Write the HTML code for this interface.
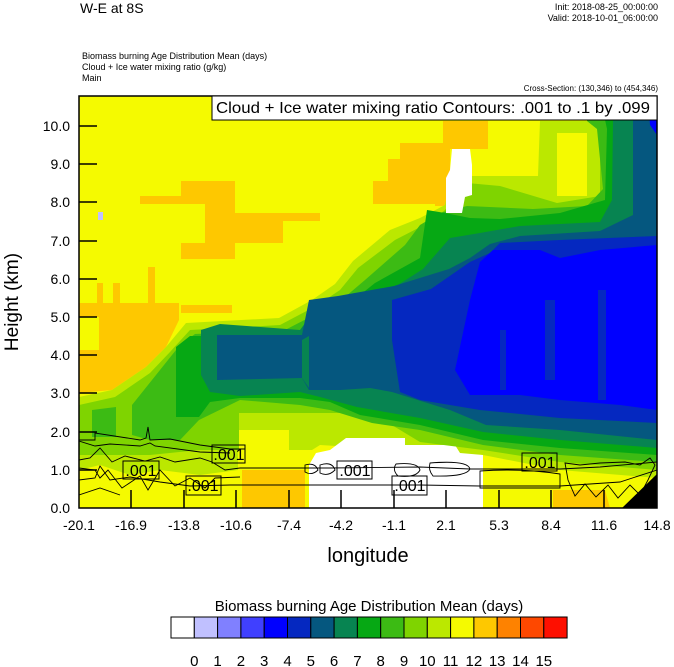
<!DOCTYPE html>
<html><head><meta charset="utf-8"><style>
html,body{margin:0;padding:0;background:#fff;}
svg{display:block;font-family:"Liberation Sans",sans-serif;}
</style></head><body>
<svg width="674" height="667" viewBox="0 0 674 667" xmlns="http://www.w3.org/2000/svg">
<text x="80" y="13" font-size="14">W-E at 8S</text>
<text x="658" y="10" font-size="9" text-anchor="end">Init: 2018-08-25_00:00:00</text>
<text x="658" y="21" font-size="9" text-anchor="end">Valid: 2018-10-01_06:00:00</text>
<text x="82" y="59" font-size="9">Biomass burning Age Distribution Mean    (days)</text>
<text x="82" y="70" font-size="9">Cloud + Ice water mixing ratio    (g/kg)</text>
<text x="82" y="81" font-size="9">Main</text>
<text x="658" y="91" font-size="8" text-anchor="end">Cross-Section: (130,346) to (454,346)</text>
<defs><clipPath id="c"><rect x="79" y="96" width="578" height="412"/></clipPath></defs>
<g clip-path="url(#c)">
<rect x="79" y="96" width="578" height="412" fill="#f5fa00"/>
<!-- orange patches -->
<g fill="#fec800">
<polygon points="79,303 97,303 97,283 103,283 103,303 113,303 113,283 120,283 120,303 148,303 148,267 155,267 155,303 179,303 179,320 166,347 146,367 112,390 79,393 79,350 99,350 99,317 79,317"/>
<polygon points="140,196 181,196 181,181 235,181 235,213 320,213 320,221 283,221 283,243 235,243 235,259 181,259 181,243 205,243 205,204 140,204"/>
<polygon points="443,121 488,121 488,149 450,149 450,206 435,206 435,204 373,204 373,181 388,181 388,159 400,159 400,143 443,143"/>
<polygon points="181,305 232,305 232,313 181,313"/>
</g>
<!-- yellow-green 10-11 -->
<polygon fill="#bbe800" points="79,397 112,390 146,367 166,347 186,323 279,318 312,300 335,284 353,261 390,230 420,218 445,205 450,180 472,176 538,176 540,121 590,121 590,96 657,96 657,508 79,508"/>
<polygon fill="#f5fa00" points="557,133 587,133 587,196 557,196"/>
<!-- bottom yellow -->
<polygon fill="#f5fa00" points="79,470 100,465 130,475 160,470 200,475 238,470 238,430 289,430 289,450 312,450 320,445 483,455 560,470 657,478 657,508 79,508"/>
<polygon fill="#fec800" points="242,470 305,470 305,508 242,508"/>
<polygon fill="#fec800" points="553,490 605,490 610,508 553,508"/>
<polygon fill="#fff" points="309,508 309,465 316,453 330,450 346,438 405,438 405,445 455,445 460,453 483,455 483,508"/>
<!-- 9-10 -->
<polygon fill="#7fd400" points="79,405 115,397 150,373 170,352 190,330 280,325 316,306 340,290 358,268 395,240 430,222 445,210 467,183 500,186 557,203 600,196 600,120 603,96 657,96 657,470 560,462 483,450 420,442 372,413 239,413 239,450 199,450 150,455 79,455"/>
<!-- 8-9 -->
<polygon fill="#3cbb14" points="132,405 160,370 180,345 195,334 285,330 320,312 345,297 365,280 405,245 420,225 440,213 467,206 533,209 587,206 603,189 597,129 587,121 590,96 657,96 657,462 560,455 483,445 420,430 372,423 330,410 300,405 240,400 199,420 180,440 150,440 132,435"/>
<polygon fill="#3cbb14" points="92,410 116,407 116,437 92,437"/>
<!-- 7-8 -->
<polygon fill="#06a814" points="176,347 190,336 290,336 325,318 350,303 375,283 420,258 427,210 445,213 470,218 500,219 560,213 605,200 607,129 600,96 657,96 657,455 560,448 483,440 420,425 360,415 330,402 300,398 240,398 210,402 199,417 176,417"/>
<!-- 6-7 -->
<polygon fill="#078451" points="201,330 220,324 300,330 309,318 338,312 390,290 423,269 450,238 480,233 520,226 600,222 612,200 613,121 618,96 657,96 657,448 560,440 483,432 420,418 357,407 320,397 300,392 240,396 210,392 201,375"/>
<!-- teal 5-6 -->
<polygon fill="#05577f" points="217,335 302,335 309,300 338,296 394,286 449,269 470,258 490,244 520,236 600,231 633,215 633,121 640,96 657,96 657,440 560,430 486,425 450,410 392,392 370,388 340,390 309,390 302,378 217,380"/>
<polygon fill="#078451" points="302,340 309,336 309,388 302,378"/>
<!-- dark blue 4-5 -->
<polygon fill="#0528c0" points="392,300 431,289 470,262 490,253 500,243 560,240 657,236 657,423 560,418 480,410 420,400 400,392 392,340"/>
<!-- blue 3-4 -->
<polygon fill="#0000ff" points="480,262 493,250 540,250 560,258 600,250 657,245 657,410 620,405 560,400 520,395 470,395 455,370 470,300"/>
<rect x="545" y="300" width="10" height="80" fill="#0528c0"/>
<rect x="598" y="290" width="8" height="110" fill="#0528c0"/>
<rect x="500" y="330" width="6" height="60" fill="#0528c0"/>
<polygon fill="#0000ff" points="648,96 657,96 657,135 650,125"/>
<!-- white cloud -->
<polygon fill="#ffffff" points="452,149 470,149 472,165 472,195 465,197 462,213 446,213 446,178 450,170"/>
<rect x="98" y="212" width="5" height="8" fill="#c0c0ff"/>
<!-- terrain -->
<polygon fill="#000" points="622,508 657,474 657,508"/>
<!-- contours -->
<g fill="none" stroke="#000" stroke-width="0.9">
<path d="M79,440 L95,440 L95,433 L140,440 L146,438 L148,427 L150,440 L170,439 L200,445 L215,447 L230,449 L245,449"/>
<path d="M79,441 L95,446 L110,444 L140,446 L150,443 L155,446 L200,452 L230,453"/>
<path d="M79,460 L90,458 L100,448 L112,462 L125,456 L145,461 L160,457 L175,462 L200,458 L212,462 L225,470 L240,468 L290,468 L330,468 L420,467 L470,469 L560,469 L600,467 L657,462"/>
<path d="M79,468 L95,470 L100,478 L108,470 L122,488 L140,476 L148,490 L160,470 L175,486 L190,478 L205,488 L215,478 L240,477"/>
<path d="M79,480 L95,478 L100,466 L110,480 L130,477 L160,482 L190,486 L230,485 L330,485 L420,485 L480,486 L560,486 L620,482 L657,470"/>
<path d="M480,471 Q520,468 560,474 L560,488 L480,488 Z"/>
<path d="M396,464 Q418,462 420,470 Q416,478 398,476 Q392,470 396,464 Z"/>
<path d="M430,463 Q468,460 470,469 Q466,477 433,476 Q428,470 430,463 Z"/>
<path d="M305,465 Q315,462 318,470 Q312,476 305,472 Z"/>
<path d="M320,465 Q332,461 335,470 Q328,477 320,473 Z"/>
<path d="M565,463 L580,465 L600,463 L625,462 L640,465 L650,458 L655,465 L648,480 L640,495 L630,485 L618,498 L608,485 L596,497 L585,484 L575,496 L568,480 Z"/>
<path d="M79,495 L100,488 L120,495"/>
</g>
<g font-size="16" text-anchor="middle" fill="#000">
<rect x="123" y="461" width="36" height="18" fill="none" stroke="#000"/><text x="141" y="476">.001</text>
<rect x="186" y="476" width="35" height="19" fill="none" stroke="#000"/><text x="203" y="491">.001</text>
<rect x="212" y="445" width="33" height="18" fill="none" stroke="#000"/><text x="229" y="460">.001</text>
<rect x="337" y="461" width="35" height="18" fill="none" stroke="#000"/><text x="355" y="476">.001</text>
<rect x="392" y="476" width="35" height="19" fill="none" stroke="#000"/><text x="410" y="491">.001</text>
<rect x="522" y="453" width="35" height="18" fill="none" stroke="#000"/><text x="540" y="468">.001</text>
</g>
</g>
<rect x="79" y="96" width="578" height="412" fill="none" stroke="#000" stroke-width="1.5"/>
<!-- legend box -->
<rect x="212" y="96" width="445" height="24" fill="#fff" stroke="#000"/>
<text x="216" y="113" font-size="16" textLength="434" lengthAdjust="spacingAndGlyphs">Cloud + Ice water mixing ratio Contours: .001 to .1 by .099</text>
<!-- ticks -->
<g stroke="#000" stroke-width="1.5">
<line x1="79" y1="126" x2="97" y2="126"/><line x1="79" y1="164" x2="97" y2="164"/><line x1="79" y1="202" x2="97" y2="202"/><line x1="79" y1="241" x2="97" y2="241"/><line x1="79" y1="279" x2="97" y2="279"/><line x1="79" y1="317" x2="97" y2="317"/><line x1="79" y1="355" x2="97" y2="355"/><line x1="79" y1="393" x2="97" y2="393"/><line x1="79" y1="432" x2="97" y2="432"/><line x1="79" y1="470" x2="97" y2="470"/>
<line x1="131" y1="508" x2="131" y2="490"/><line x1="184" y1="508" x2="184" y2="490"/><line x1="236" y1="508" x2="236" y2="490"/><line x1="289" y1="508" x2="289" y2="490"/><line x1="341" y1="508" x2="341" y2="490"/><line x1="394" y1="508" x2="394" y2="490"/><line x1="446" y1="508" x2="446" y2="490"/><line x1="499" y1="508" x2="499" y2="490"/><line x1="551" y1="508" x2="551" y2="490"/><line x1="604" y1="508" x2="604" y2="490"/>
</g>
<g font-size="14" text-anchor="end">
<text x="70" y="131">10.0</text><text x="70" y="169">9.0</text><text x="70" y="207">8.0</text><text x="70" y="246">7.0</text><text x="70" y="284">6.0</text><text x="70" y="322">5.0</text><text x="70" y="360">4.0</text><text x="70" y="398">3.0</text><text x="70" y="437">2.0</text><text x="70" y="475">1.0</text><text x="70" y="513">0.0</text>
</g>
<g font-size="14" text-anchor="middle">
<text x="79" y="530">-20.1</text><text x="131" y="530">-16.9</text><text x="184" y="530">-13.8</text><text x="236" y="530">-10.6</text><text x="289" y="530">-7.4</text><text x="341" y="530">-4.2</text><text x="394" y="530">-1.1</text><text x="446" y="530">2.1</text><text x="499" y="530">5.3</text><text x="551" y="530">8.4</text><text x="604" y="530">11.6</text><text x="657" y="530">14.8</text>
</g>
<text x="368" y="562" font-size="20" text-anchor="middle">longitude</text>
<text transform="translate(18,302) rotate(-90)" font-size="19" text-anchor="middle">Height (km)</text>
<!-- colorbar -->
<text x="369" y="611" font-size="15" text-anchor="middle">Biomass burning Age Distribution Mean  (days)</text>
<g stroke="#000" stroke-width="1">
<rect x="171" y="617" width="23.3" height="21" fill="#ffffff"/>
<rect x="194.3" y="617" width="23.3" height="21" fill="#c0c0ff"/>
<rect x="217.6" y="617" width="23.3" height="21" fill="#8080ff"/>
<rect x="240.9" y="617" width="23.3" height="21" fill="#4040ff"/>
<rect x="264.2" y="617" width="23.3" height="21" fill="#0000ff"/>
<rect x="287.5" y="617" width="23.3" height="21" fill="#0528c0"/>
<rect x="310.8" y="617" width="23.3" height="21" fill="#05577f"/>
<rect x="334.1" y="617" width="23.3" height="21" fill="#078451"/>
<rect x="357.4" y="617" width="23.3" height="21" fill="#06a814"/>
<rect x="380.7" y="617" width="23.3" height="21" fill="#3cbb14"/>
<rect x="404" y="617" width="23.3" height="21" fill="#7fd400"/>
<rect x="427.3" y="617" width="23.3" height="21" fill="#bbe800"/>
<rect x="450.6" y="617" width="23.3" height="21" fill="#f5fa00"/>
<rect x="473.9" y="617" width="23.3" height="21" fill="#fec800"/>
<rect x="497.2" y="617" width="23.3" height="21" fill="#fe8200"/>
<rect x="520.5" y="617" width="23.3" height="21" fill="#fe4800"/>
<rect x="543.8" y="617" width="23.3" height="21" fill="#fe0f00"/>
</g>
<g font-size="15" text-anchor="middle">
<text x="194.3" y="666">0</text><text x="217.6" y="666">1</text><text x="240.9" y="666">2</text><text x="264.2" y="666">3</text><text x="287.5" y="666">4</text><text x="310.8" y="666">5</text><text x="334.1" y="666">6</text><text x="357.4" y="666">7</text><text x="380.7" y="666">8</text><text x="404" y="666">9</text><text x="427.3" y="666">10</text><text x="450.6" y="666">11</text><text x="473.9" y="666">12</text><text x="497.2" y="666">13</text><text x="520.5" y="666">14</text><text x="543.8" y="666">15</text>
</g>
</svg>
</body></html>
